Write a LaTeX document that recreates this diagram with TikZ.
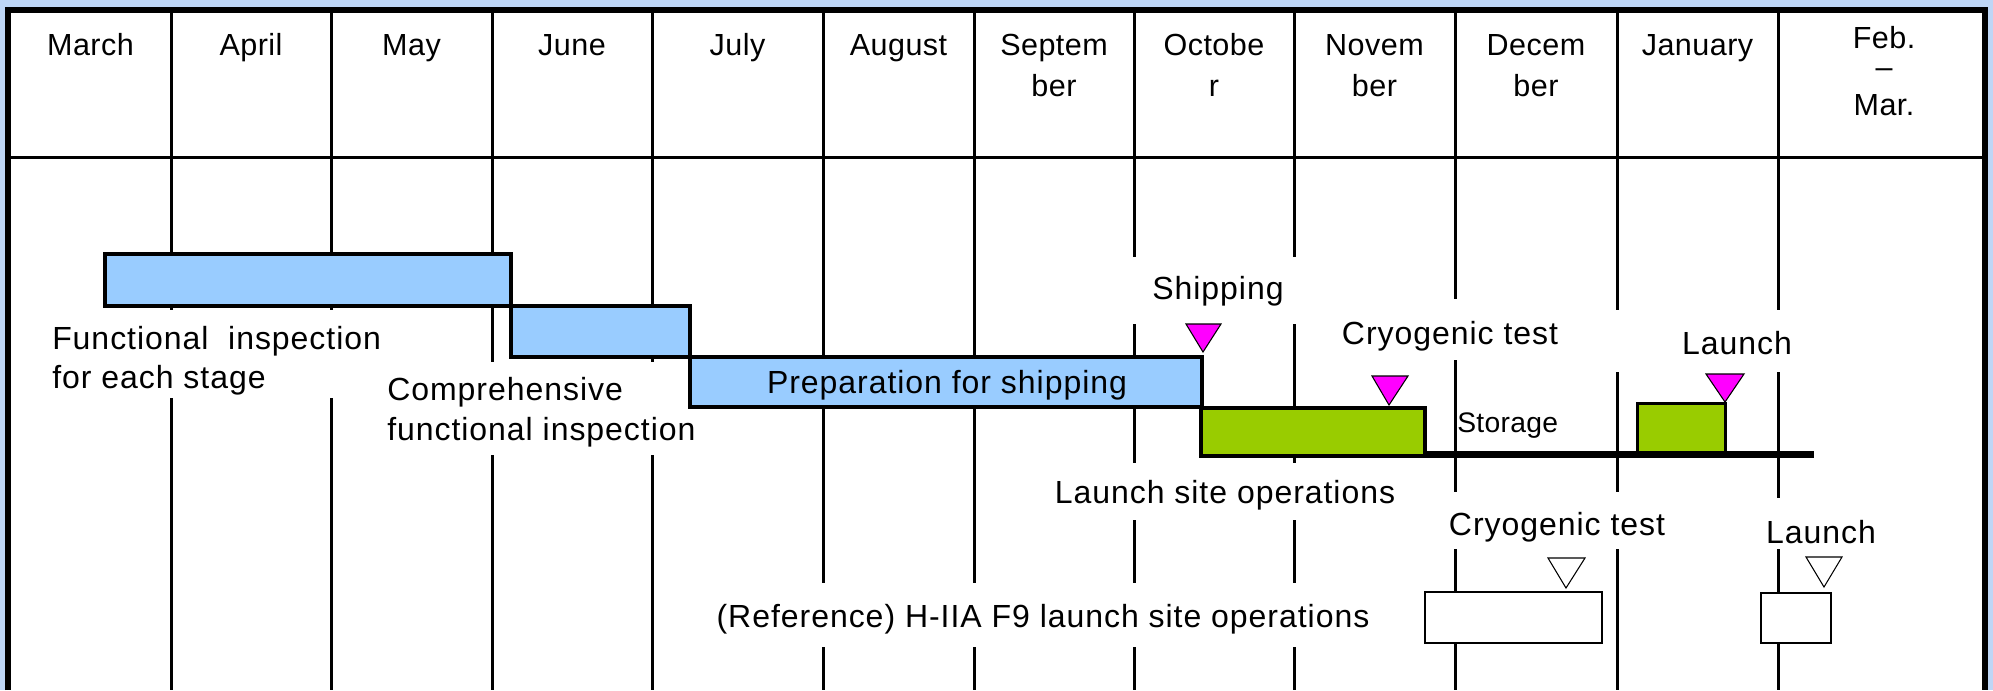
\documentclass[tikz,border=0pt]{standalone}
\usepackage{fontspec}
\newfontfamily\lblfont{Liberation Sans}[LetterSpace=3]
\newfontfamily\monfont{Liberation Sans}[LetterSpace=1.5]
\newfontfamily\storfont{Liberation Sans}[LetterSpace=1]
\definecolor{bgblue}{RGB}{190,214,246}
\definecolor{barblue}{RGB}{153,204,255}
\definecolor{bargreen}{RGB}{153,204,0}
\definecolor{mk}{RGB}{255,0,255}
\begin{document}
\begin{tikzpicture}[x=0.75pt,y=-0.75pt,
  month/.style={font=\monfont\fontsize{22.9}{27}\selectfont, inner sep=0pt, anchor=base},
  lbl/.style={font=\lblfont\fontsize{24}{29.5}\selectfont, inner sep=0pt},
  storlbl/.style={font=\storfont\fontsize{21.2}{25}\selectfont, inner sep=0pt},
  grid/.style={line width=2.25pt},
  mask/.style={fill=white},
  bluebar/.style={draw=black, fill=barblue, line width=3pt},
  greenbar/.style={draw=black, fill=bargreen, line width=3.5pt},
  greenbarthin/.style={draw=black, fill=bargreen, line width=2.25pt},
  marker/.style={draw=black, line width=0.8pt, line join=miter},
  refbox/.style={draw=black, fill=white, line width=1.8pt},
]
\useasboundingbox (0,0) rectangle (1993,690);
\fill[bgblue] (0,0) rectangle (1993,690);
\fill[white] (8,10) rectangle (1985,690);
% grid
\foreach \x in {171,331,492,652,823,974,1134,1294,1455,1617,1778}
  \draw[grid] (\x,10) -- (\x,690);
\draw[grid] (8,157) -- (1985,157);
% month headers
\node[month] (m1) at (90.5,55) {March};
\node[month] (m2) at (251,55) {April};
\node[month] (m3) at (411.5,55) {May};
\node[month] (m4) at (572,55) {June};
\node[month] (m5) at (737.5,55) {July};
\node[month] (m6) at (898.5,55) {August};
\node[month] (m7a) at (1054,55) {Septem};
\node[month] (m7b) at (1054,96) {ber};
\node[month] (m8a) at (1214,55) {Octobe};
\node[month] (m8b) at (1214,96) {r};
\node[month] (m9a) at (1374.5,55) {Novem};
\node[month] (m9b) at (1374.5,96) {ber};
\node[month] (m10a) at (1536,55) {Decem};
\node[month] (m10b) at (1536,96) {ber};
\node[month] (m11) at (1697.5,55) {January};
\node[month] (m12a) at (1884,48) {Feb.};
\node[month] (m12b) at (1884,77) {–};
\node[month] (m12c) at (1884,115) {Mar.};
% masks behind labels
\fill[mask] (40,310) rectangle (405,398);
\fill[mask] (375,362) rectangle (712,455);
\fill[mask] (1125,257) rectangle (1310,324);
\fill[mask] (1325,299) rectangle (1575,360);
\fill[mask] (1600,310) rectangle (1810,372);
\fill[mask] (1040,463) rectangle (1410,520);
\fill[mask] (1440,492) rectangle (1680,549);
\fill[mask] (1755,498) rectangle (1890,549);
\fill[mask] (700,583) rectangle (1390,647);
% bars
\draw[bluebar] (105,254) rectangle (511,306);
\draw[bluebar] (511,306) rectangle (690,357);
\draw[bluebar] (690,357) rectangle (1202,407);
\draw[greenbar] (1201,408) rectangle (1425,456);
\draw[line width=5.25pt] (1425,454) -- (1814,454);
\draw[greenbarthin] (1637,403) rectangle (1725,452);
% markers
\draw[marker, fill=mk] (1186,324) -- (1221,324) -- (1203,352) -- cycle;
\draw[marker, fill=mk] (1372,376) -- (1408,376) -- (1389,405) -- cycle;
\draw[marker, fill=mk] (1706,374) -- (1744,374) -- (1725,402) -- cycle;
\draw[marker, fill=white] (1548,558) -- (1585,558) -- (1566,588) -- cycle;
\draw[marker, fill=white] (1806,557) -- (1842,557) -- (1824,587) -- cycle;
% reference boxes
\draw[refbox] (1425,592) rectangle (1602,643);
\draw[refbox, line width=1.3pt] (1761,593) rectangle (1831,643);
% labels
\node[lbl, anchor=base west] (fi1) at (52,349) {Functional\ \ inspection};
\node[lbl, anchor=base west] (fi2) at (52,388) {for each stage};
\node[lbl, anchor=base west] (ci1) at (387,400) {Comprehensive};
\node[lbl, anchor=base west] (ci2) at (387,440) {functional inspection};
\node[lbl, anchor=base] (prep) at (947,393) {Preparation for shipping};
\node[lbl, anchor=base] (ship) at (1218,299) {Shipping};
\node[lbl, anchor=base] (cryo) at (1450,344) {Cryogenic test};
\node[lbl, anchor=base] (launch) at (1737,354) {Launch};
\node[storlbl, anchor=base west] (stor) at (1457,432) {Storage};
\node[lbl, anchor=base] (lso) at (1225,503) {Launch site operations};
\node[lbl, anchor=base] (cryoref) at (1557,535) {Cryogenic test};
\node[lbl, anchor=base] (launchref) at (1821,543) {Launch};
\node[lbl, anchor=base] (ref) at (1043,627) {(Reference) H-IIA F9 launch site operations};
% outer frame
\draw[line width=4.5pt, line join=miter] (8,690) -- (8,10) -- (1985,10) -- (1985,690);
\end{tikzpicture}
\end{document}
